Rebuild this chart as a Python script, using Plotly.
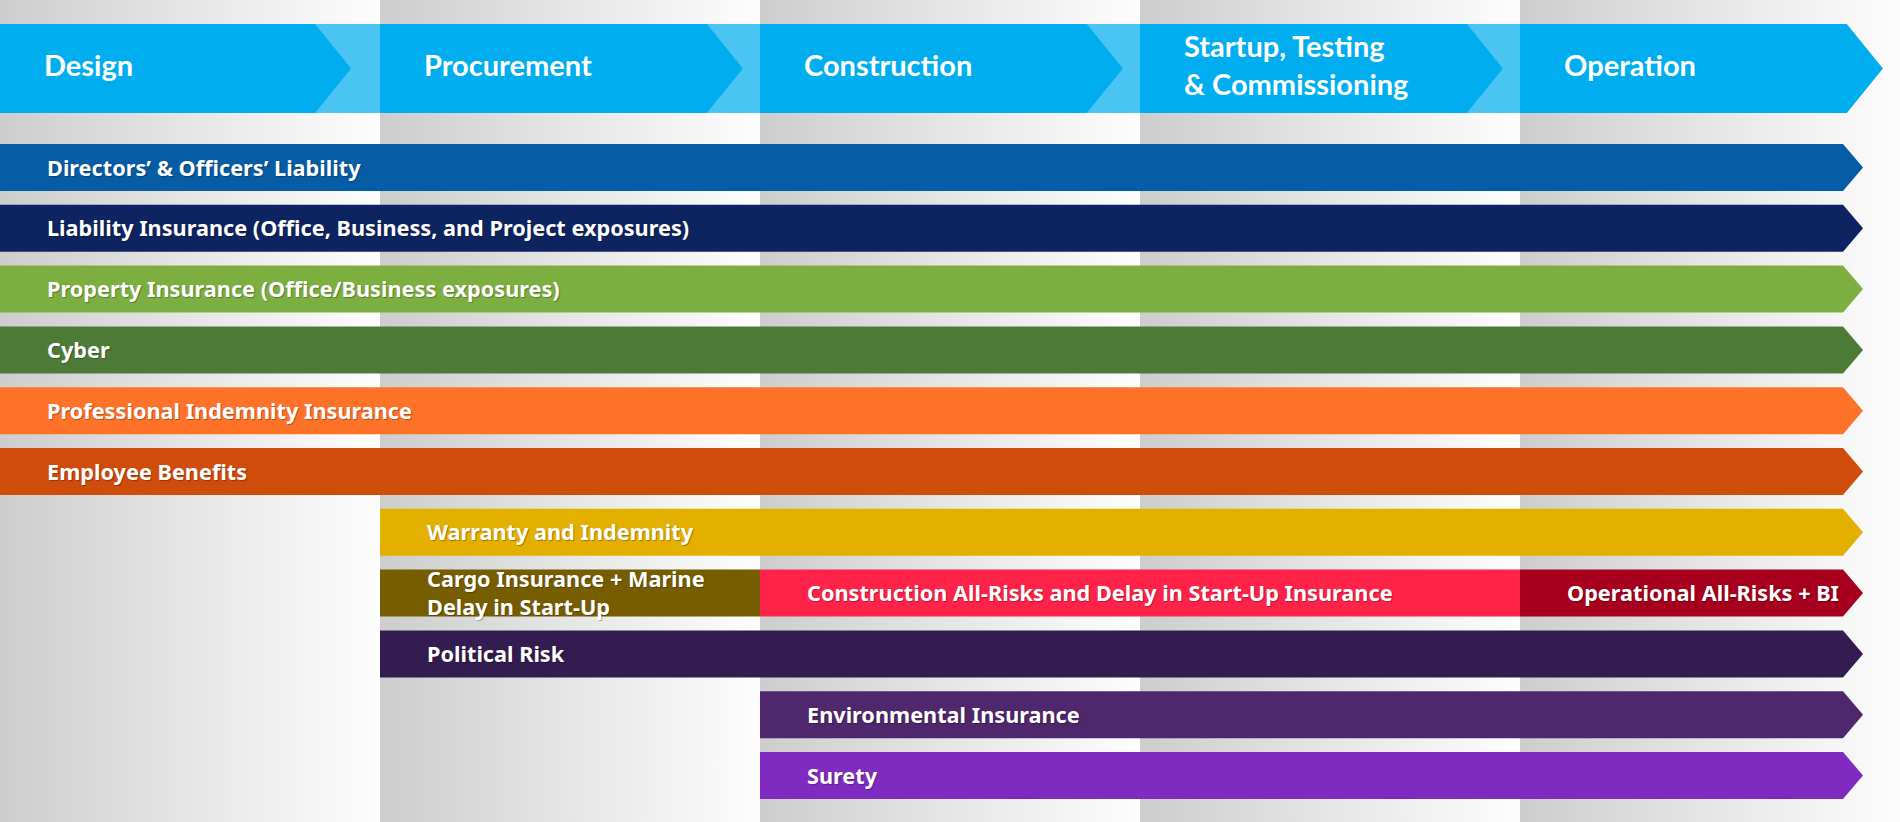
import plotly.graph_objects as go

# ---------------- data ----------------
phases = ["Design", "Procurement", "Construction",
          "Startup, Testing<br>& Commissioning", "Operation"]

coverage_rows = [0, 1, 2, 3, 4, 5, 6, 7, 7, 7, 8, 9, 10]
coverage_labels = [
    "Directors’ & Officers’ Liability",
    "Liability Insurance (Office, Business, and Project exposures)",
    "Property Insurance (Office/Business exposures)",
    "Cyber",
    "Professional Indemnity Insurance",
    "Employee Benefits",
    "Warranty and Indemnity",
    "Cargo Insurance + Marine<br>Delay in Start-Up",
    "Construction All-Risks and Delay in Start-Up Insurance",
    "Operational All-Risks + BI",
    "Political Risk",
    "Environmental Insurance",
    "Surety",
]
# start / end expressed in phase index (0 = Design ... 5 = end of Operation)
coverage_start = [0, 0, 0, 0, 0, 0, 1, 1, 2, 4, 1, 2, 2]
coverage_end = [5, 5, 5, 5, 5, 5, 5, 2, 4, 5, 5, 5, 5]
coverage_colors = [
    "#065ca5", "#0d2460", "#7daf40", "#4e7a37", "#ff7229", "#cf4c0b",
    "#e3b000", "#765e00", "#ff2249", "#a6001e", "#331c50", "#4f276c",
    "#7f2bbf",
]

# ---------------- layout constants ----------------
W, H = 1900, 822
N_PH = len(phases)
HDR_TOP, HDR_BOT = 24, 113
ROW_TOP0, ROW_STEP, ROW_H = 144, 60.8, 47
ARROW_BASE_OFF = 57 / 380.0     # arrow base before phase end
ARROW_TIP_OFF = 37 / 380.0      # arrow tip before phase end
HDR_BODY = [0.829, 0.86, 0.86, 0.86, 0.86]
HDR_TIP = 0.095
HDR_LABEL_OFF = 0.111
LABEL_OFF = 0.118
HDR_FONT = "Lato, 'Noto Sans', sans-serif"
BAR_FONT = "'Noto Sans', 'Open Sans', sans-serif"
HDR_BLUE = "#00aeef"
HDR_LIGHT = "#4ac4f3"
SHADOW = "1px 1px 1px rgba(0,0,0,0.3)"

fig = go.Figure()

# column backgrounds (grey -> white gradients)
for c in range(N_PH):
    fig.add_trace(go.Scatter(
        x=[c, c + 1, c + 1, c, c], y=[0, 0, H, H, 0],
        mode="lines", line=dict(width=0), fill="toself",
        fillgradient=dict(type="horizontal", start=c, stop=c + 1,
                          colorscale=[[0, "#cdcdcd"], [0.5, "#e6e6e6"], [1, "#fdfdfd"]]),
        hoverinfo="skip", showlegend=False))

# header chevrons
ymid = (HDR_TOP + HDR_BOT) / 2
for c, name in enumerate(phases):
    base = c + HDR_BODY[c]
    tip = base + HDR_TIP
    if c < N_PH - 1:
        fig.add_trace(go.Scatter(
            x=[base, c + 1, c + 1, base, base],
            y=[HDR_TOP, HDR_TOP, HDR_BOT, HDR_BOT, HDR_TOP],
            mode="lines", line=dict(width=0), fill="toself", fillcolor=HDR_LIGHT,
            hoverinfo="skip", showlegend=False))
    fig.add_trace(go.Scatter(
        x=[c, base, tip, base, c, c],
        y=[HDR_TOP, HDR_TOP, ymid, HDR_BOT, HDR_BOT, HDR_TOP],
        mode="lines", line=dict(width=0), fill="toself", fillcolor=HDR_BLUE,
        hoverinfo="skip", showlegend=False))
    fig.add_annotation(
        x=c + HDR_LABEL_OFF, y=ymid - 4.5, xref="x", yref="y", text=name,
        showarrow=False, xanchor="left", yanchor="middle", align="left",
        font=dict(family=HDR_FONT, size=29, color="white", weight="bold"))

# coverage bars
for row, label, s, e, col in zip(coverage_rows, coverage_labels,
                                 coverage_start, coverage_end, coverage_colors):
    top = ROW_TOP0 + ROW_STEP * row
    bot = top + ROW_H
    mid = (top + bot) / 2
    if e == N_PH:
        base = e - ARROW_BASE_OFF
        tip = e - ARROW_TIP_OFF
        xs = [s, base, tip, base, s, s]
        ys = [top, top, mid, bot, bot, top]
    else:
        xs = [s, e, e, s, s]
        ys = [top, top, bot, bot, top]
    fig.add_trace(go.Scatter(
        x=xs, y=ys, mode="lines", line=dict(width=0), fill="toself",
        fillcolor=col, hoverinfo="skip", showlegend=False))
    fig.add_annotation(
        x=s + LABEL_OFF, y=mid - 0.5, xref="x", yref="y", text=label,
        showarrow=False, xanchor="left", yanchor="middle", align="left",
        font=dict(family=BAR_FONT, size=21.7, color="white", weight="bold",
                  shadow=SHADOW))

fig.update_layout(
    width=W, height=H, margin=dict(l=0, r=0, t=0, b=0),
    paper_bgcolor="white", plot_bgcolor="white",
    xaxis=dict(range=[0, N_PH], visible=False, fixedrange=True),
    yaxis=dict(range=[H, 0], visible=False, fixedrange=True),
    showlegend=False,
)

fig.write_html(
    "out.html",
    config={"displayModeBar": False},
    post_script="document.body.style.margin='0';document.body.style.overflow='hidden';",
)
